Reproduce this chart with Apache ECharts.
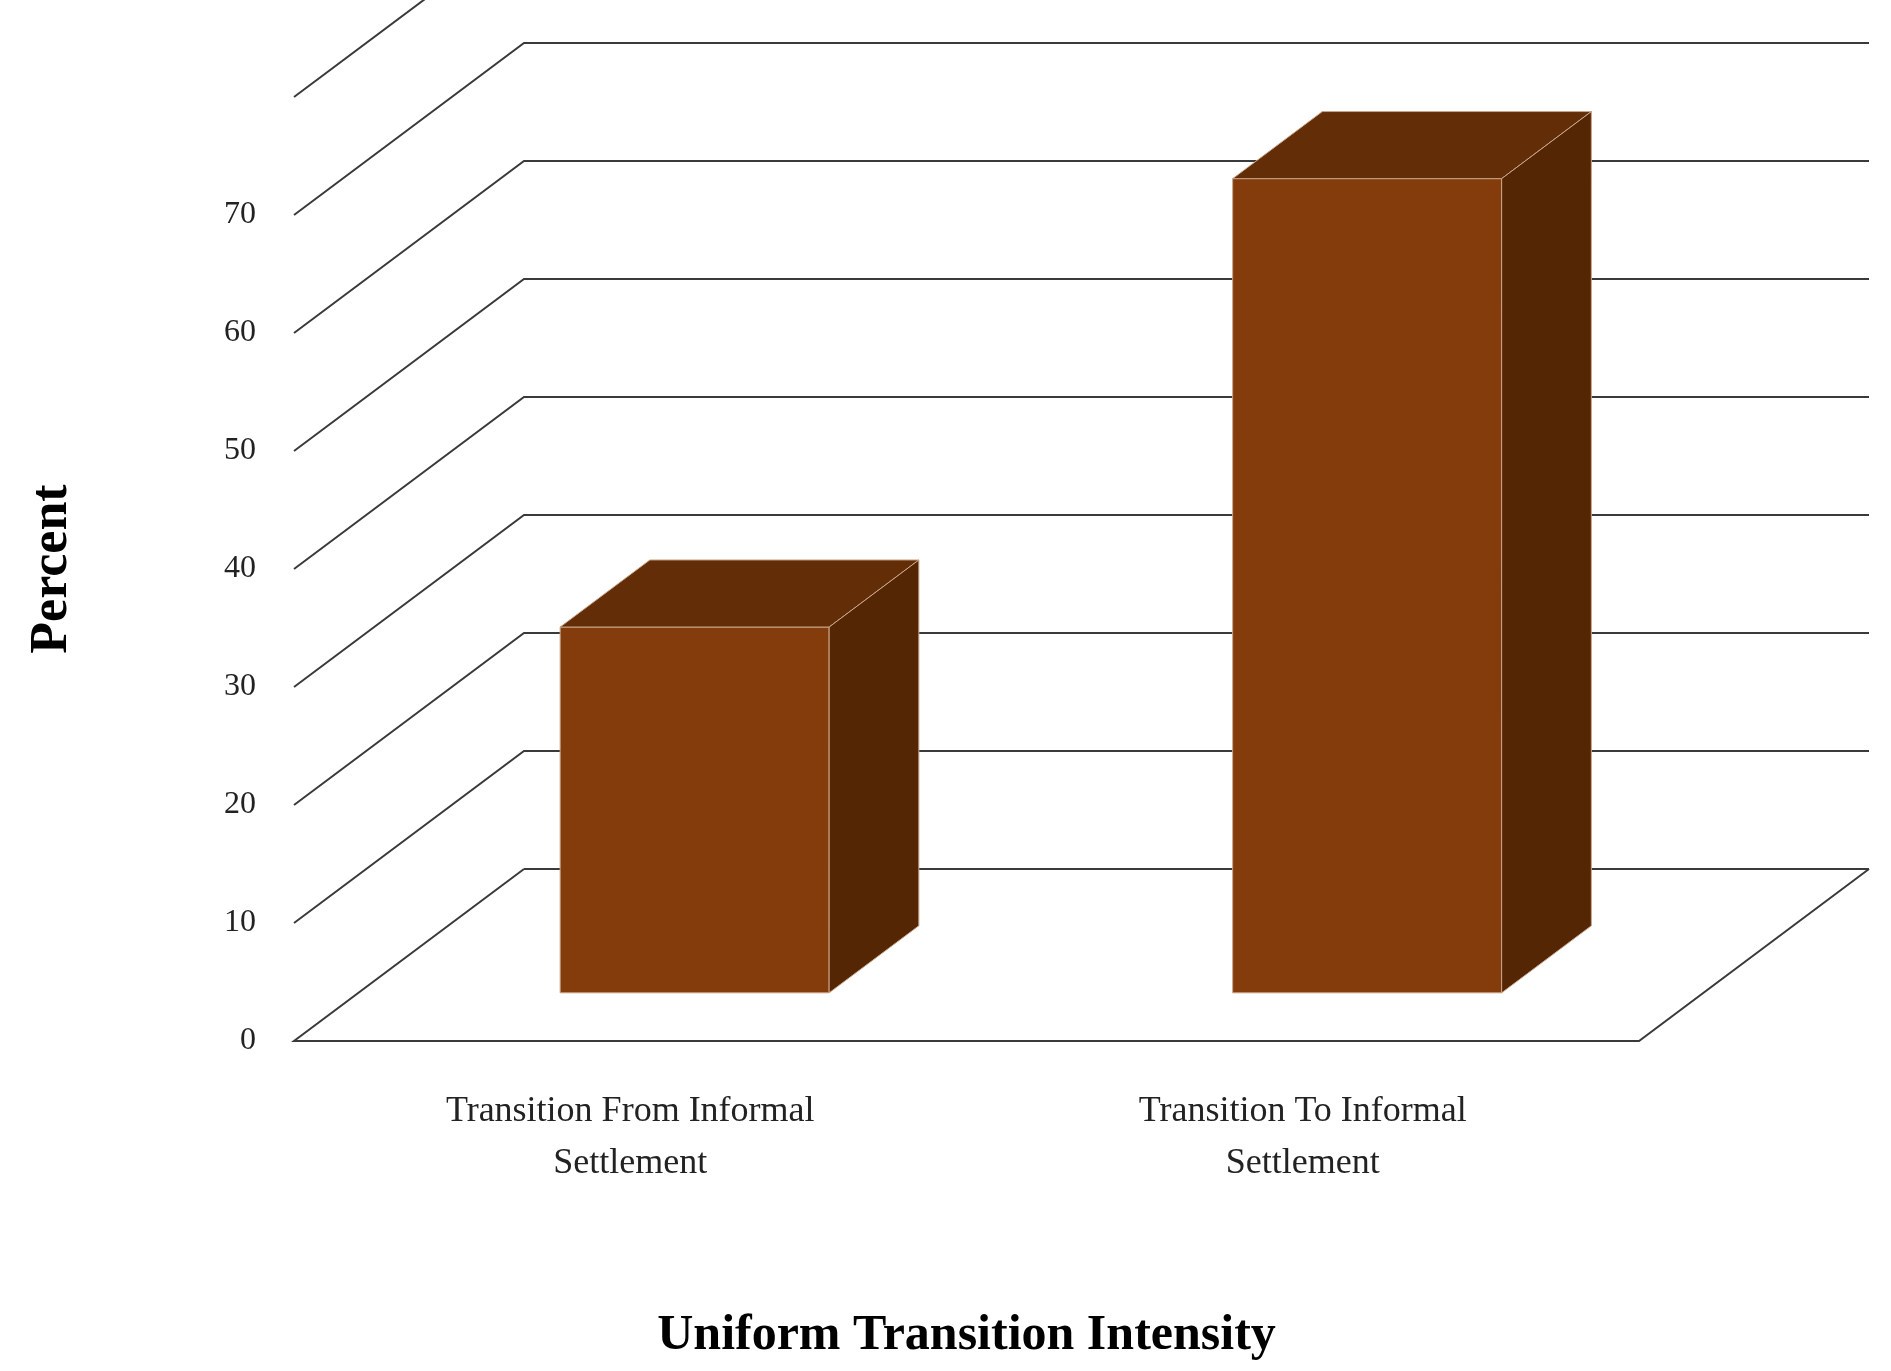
<!DOCTYPE html>
<html>
<head>
<meta charset="utf-8">
<script src="https://cdn.jsdelivr.net/npm/echarts@6/dist/echarts.min.js"></script>
<style>html,body{margin:0;background:#fff}#chart{width:1891px;height:1371px}</style>
</head>
<body>
<div id="chart"></div>
<script>
var categories = ['Transition From Informal\nSettlement', 'Transition To Informal\nSettlement'];
var values = [31, 69];
var ticks = [0, 10, 20, 30, 40, 50, 60, 70, 80];

// oblique depth offset (pixels) for the full floor depth
var DX = 230, DY = -172;
var barFront = 0.28, barBack = 0.67;
var lineColor = '#3a3a3a';

var chart = echarts.init(document.getElementById('chart'));

function wallItem(params, api) {
    var cs = params.coordSys;
    var v = api.value(0);
    var y = api.coord([0, v])[1];
    var x0 = cs.x, x1 = cs.x + cs.width;
    var children = [];
    var style = {stroke: lineColor, lineWidth: 2, fill: null};
    if (v === 0) {
        children.push({type: 'polyline', shape: {points: [[x0 + DX, y + DY], [x0, y], [x1, y], [x1 + DX, y + DY]]}, style: style});
        children.push({type: 'line', shape: {x1: x0 + DX, y1: y + DY, x2: x1 + DX, y2: y + DY}, style: style});
    } else {
        children.push({type: 'polyline', shape: {points: [[x0, y], [x0 + DX, y + DY], [x1 + DX, y + DY]]}, style: style});
    }
    return {type: 'group', children: children};
}

function barItem(params, api) {
    var base = api.coord([api.value(0), 0]);
    var top = api.coord([api.value(0), api.value(1)]);
    var bw = api.size([1, 0])[0] * 0.4;
    var fx = base[0] - bw / 2 + DX * barFront;
    var fyb = base[1] + DY * barFront;
    var fyt = top[1] + DY * barFront;
    var ddx = DX * (barBack - barFront), ddy = DY * (barBack - barFront);
    var edge = {stroke: '#c9a58a', lineWidth: 1};
    return {
        type: 'group',
        children: [
            {type: 'rect', shape: {x: fx, y: fyt, width: bw, height: fyb - fyt},
                style: Object.assign({fill: '#843c0c'}, edge)},
            {type: 'polygon', shape: {points: [[fx, fyt], [fx + ddx, fyt + ddy], [fx + bw + ddx, fyt + ddy], [fx + bw, fyt]]},
                style: Object.assign({fill: '#632d08'}, edge)},
            {type: 'polygon', shape: {points: [[fx + bw, fyt], [fx + bw + ddx, fyt + ddy], [fx + bw + ddx, fyb + ddy], [fx + bw, fyb]]},
                style: Object.assign({fill: '#552604'}, edge)}
        ]
    };
}

var option = {
    animation: false,
    grid: {left: 294, width: 1345, top: 97, bottom: 330},
    xAxis: {
        type: 'category',
        data: categories,
        axisLine: {show: false},
        axisTick: {show: false},
        axisLabel: {
            margin: 45, fontFamily: 'Liberation Serif', fontSize: 36, color: '#222', lineHeight: 52
        },
        name: 'Uniform Transition Intensity',
        nameLocation: 'middle',
        nameGap: 270,
        nameTextStyle: {fontFamily: 'Liberation Serif', fontWeight: 'bold', fontSize: 50, color: '#000', padding: [0, 0, 0, 0]}
    },
    yAxis: {
        type: 'value',
        min: 0, max: 80, interval: 10,
        axisLine: {show: false},
        axisTick: {show: false},
        splitLine: {show: false},
        axisLabel: {
            margin: 38, fontFamily: 'Liberation Serif', fontSize: 32, color: '#222',
            formatter: function (v) { return v === 80 ? '' : v; }
        },
        name: 'Percent',
        nameLocation: 'middle',
        nameGap: 215,
        nameTextStyle: {fontFamily: 'Liberation Serif', fontWeight: 'bold', fontSize: 52, color: '#000'}
    },
    series: [
        {type: 'custom', renderItem: wallItem, data: ticks.map(function (t) { return [t]; }),
            encode: {y: 0}, silent: true, z: 1},
        {type: 'custom', renderItem: barItem,
            data: values.map(function (v, i) { return [i, v]; }),
            encode: {x: 0, y: 1}, z: 2}
    ]
};
chart.setOption(option);
</script>
</body>
</html>
